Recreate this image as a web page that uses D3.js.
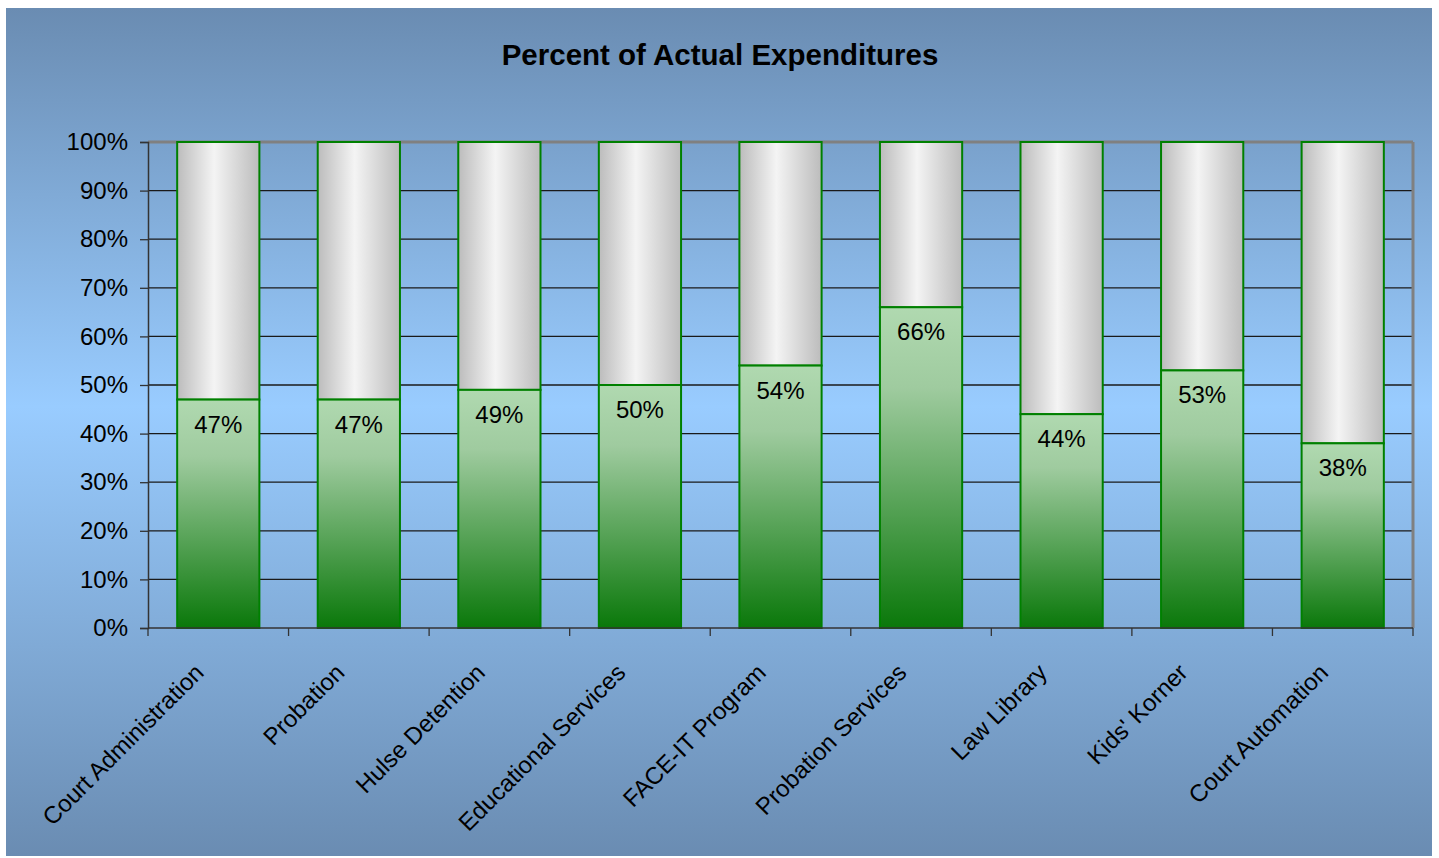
<!DOCTYPE html>
<html>
<head>
<meta charset="utf-8">
<script src="https://cdn.jsdelivr.net/npm/d3@7"></script>
<style>
  body { margin: 0; background: #fff; }
  text { font-family: "Liberation Sans", Arial, sans-serif; }
</style>
</head>
<body>
<div id="chart"></div>
<script>
const categories = ["Court Administration", "Probation", "Hulse Detention", "Educational Services",
    "FACE-IT Program", "Probation Services", "Law Library", "Kids' Korner", "Court Automation"];
const actualPct = [47, 47, 49, 50, 54, 66, 44, 53, 38];
const yTicks = [0, 10, 20, 30, 40, 50, 60, 70, 80, 90, 100];

const W = 1439, H = 858;
const plot = {left: 148, right: 1413, top: 142, bottom: 628};

const svg = d3.select('#chart')
    .append("svg")
    .attr("width", W)
    .attr("height", H);

const defs = svg.append("defs");

const bg = defs.append("linearGradient").attr("id", "bg")
    .attr("x1", 0).attr("y1", 0).attr("x2", 0).attr("y2", 1);
bg.append("stop").attr("offset", "0%").attr("stop-color", "#6a8cb2");
bg.append("stop").attr("offset", "47%").attr("stop-color", "#99ccff");
bg.append("stop").attr("offset", "100%").attr("stop-color", "#6a8cb2");

const green = defs.append("linearGradient").attr("id", "green")
    .attr("x1", 0).attr("y1", 0).attr("x2", 0).attr("y2", 1);
green.append("stop").attr("offset", "0%").attr("stop-color", "#b0d9b0");
green.append("stop").attr("offset", "25%").attr("stop-color", "#9fcb9f");
green.append("stop").attr("offset", "100%").attr("stop-color", "#0a780a");

const grey = defs.append("linearGradient").attr("id", "grey")
    .attr("x1", 0).attr("y1", 0).attr("x2", 1).attr("y2", 0);
grey.append("stop").attr("offset", "0%").attr("stop-color", "#bcbcbc");
grey.append("stop").attr("offset", "45%").attr("stop-color", "#f4f4f4");
grey.append("stop").attr("offset", "100%").attr("stop-color", "#bcbcbc");

svg.append("rect")
    .attr("x", 6).attr("y", 8)
    .attr("width", 1426).attr("height", 848)
    .attr("fill", "url(#bg)");

svg.append("text")
    .attr("x", 720).attr("y", 65)
    .attr("text-anchor", "middle")
    .attr("font-size", 29.5)
    .attr("font-weight", "bold")
    .text("Percent of Actual Expenditures");

const x = d3.scaleBand()
    .domain(categories)
    .range([plot.left, plot.right])
    .paddingInner(0.415)
    .paddingOuter(0.2075);

const y = d3.scaleLinear()
    .domain([0, 100])
    .range([plot.bottom, plot.top]);

// gridlines
svg.append("g")
    .selectAll("line")
    .data(yTicks.slice(1))
    .join("line")
    .attr("x1", plot.left).attr("x2", plot.right)
    .attr("y1", d => y(d)).attr("y2", d => y(d))
    .attr("stroke", d => d === 100 ? "#808080" : "#1a1a1a")
    .attr("stroke-width", d => d === 100 ? 3 : 1.3);

svg.append("line")
    .attr("x1", plot.right).attr("x2", plot.right)
    .attr("y1", plot.top).attr("y2", plot.bottom)
    .attr("stroke", "#808080").attr("stroke-width", 3);

// y axis
const yAxis = svg.append("g")
    .attr("transform", `translate(${plot.left},0)`)
    .call(d3.axisLeft(y).tickValues(yTicks).tickSize(8).tickPadding(12).tickFormat(d => d + "%"));
yAxis.select(".domain").attr("stroke", "#333").attr("stroke-width", 1.5);
yAxis.selectAll(".tick line").attr("stroke", "#333").attr("stroke-width", 1.3);
yAxis.selectAll(".tick text")
    .attr("font-size", 24)
    .attr("font-family", "Liberation Sans, Arial, sans-serif")
    .attr("fill", "#000");

const bars = svg.append("g")
    .selectAll("g")
    .data(categories)
    .join("g");

bars.append("rect")
    .attr("x", d => x(d))
    .attr("y", y(100))
    .attr("width", x.bandwidth())
    .attr("height", (d, i) => y(actualPct[i]) - y(100))
    .attr("fill", "url(#grey)")
    .attr("stroke", "#008000")
    .attr("stroke-width", 2);

bars.append("rect")
    .attr("x", d => x(d))
    .attr("y", (d, i) => y(actualPct[i]))
    .attr("width", x.bandwidth())
    .attr("height", (d, i) => y(0) - y(actualPct[i]))
    .attr("fill", "url(#green)")
    .attr("stroke", "#008000")
    .attr("stroke-width", 2);

bars.append("text")
    .attr("x", d => x(d) + x.bandwidth() / 2)
    .attr("y", (d, i) => y(actualPct[i]) + 33)
    .attr("text-anchor", "middle")
    .attr("font-size", 24)
    .text((d, i) => actualPct[i] + "%");

// x axis
svg.append("line")
    .attr("x1", plot.left).attr("x2", plot.right)
    .attr("y1", plot.bottom).attr("y2", plot.bottom)
    .attr("stroke", "#333").attr("stroke-width", 1.5);

const step = x.step();
svg.append("g")
    .selectAll("line")
    .data(d3.range(categories.length + 1))
    .join("line")
    .attr("x1", i => plot.left + i * step).attr("x2", i => plot.left + i * step)
    .attr("y1", plot.bottom).attr("y2", plot.bottom + 8)
    .attr("stroke", "#333").attr("stroke-width", 1.3);

svg.append("g")
    .selectAll("text")
    .data(categories)
    .join("text")
    .attr("transform", d => `translate(${x(d) + x.bandwidth() / 2 - 13},${plot.bottom + 46}) rotate(-45)`)
    .attr("text-anchor", "end")
    .attr("font-size", 24)
    .text(d => d);
</script>
</body>
</html>
